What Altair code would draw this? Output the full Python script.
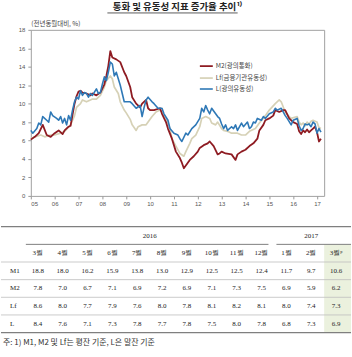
import altair as alt
import pandas as pd

# ---------------- series names / colours ----------------
SER_NAMES = ["M2(광의통화)", "Lf(금융기관유동성)", "L(광의유동성)"]
SER_COLORS = ["#8E1B22", "#D6D1B6", "#2E78B6"]

# ---------------- line data (2005-01 .. 2016-01) ----------------
m2_months = ["2005-01", "2005-03", "2005-05", "2005-07", "2005-09", "2005-11",
             "2006-01", "2006-03", "2006-05", "2006-06", "2006-08", "2006-09", "2006-10", "2006-11", "2006-12",
             "2007-01", "2007-02", "2007-03", "2007-05", "2007-07", "2007-08", "2007-10", "2007-12",
             "2008-02", "2008-03", "2008-04", "2008-05", "2008-06", "2008-08", "2008-10", "2008-12",
             "2009-01", "2009-03", "2009-04", "2009-06", "2009-08", "2009-09", "2009-11", "2009-12",
             "2010-01", "2010-03", "2010-06", "2010-07", "2010-09", "2010-10", "2010-12",
             "2011-02", "2011-04", "2011-05", "2011-06", "2011-08", "2011-09", "2011-11",
             "2012-01", "2012-02", "2012-04", "2012-06", "2012-07", "2012-09", "2012-11", "2012-12",
             "2013-01", "2013-03", "2013-06", "2013-08", "2013-09", "2013-11",
             "2014-01", "2014-03", "2014-05", "2014-07", "2014-08", "2014-10", "2014-11",
             "2015-01", "2015-03", "2015-04", "2015-06", "2015-08", "2015-09", "2015-11",
             "2016-01"]
m2_values = [6.1, 6.4, 6.8, 7.7, 6.6, 6.4,
             6.8, 7.1, 6.7, 7.1, 7.5, 7.6, 8.8, 10.0, 10.8,
             11.3, 11.4, 11.2, 11.1, 10.9, 11.1, 10.9, 11.2,
             12.1, 13.0, 14.1, 15.7, 15.0, 14.8, 14.5, 13.4,
             13.0, 11.8, 10.7, 10.0, 9.6, 10.0, 10.4, 9.5,
             9.3, 9.3, 9.5, 8.9, 8.0, 7.3, 6.2,
             4.8, 4.1, 3.6, 3.0, 3.6, 3.9, 4.3,
             4.8, 5.2, 5.5, 5.7, 5.9, 5.4, 4.5, 4.6,
             4.8, 4.6, 4.5, 3.9, 4.5, 4.8,
             5.0, 5.4, 5.7, 6.2, 7.1, 7.7, 8.2,
             8.4, 8.7, 9.3, 9.1, 9.3, 9.3, 8.4,
             8.0]

lf_months = ["2005-01", "2005-03", "2005-06", "2005-08", "2005-11",
             "2006-01", "2006-04", "2006-06", "2006-09", "2006-11", "2006-12",
             "2007-02", "2007-03", "2007-05", "2007-07", "2007-08", "2007-10", "2007-12",
             "2008-02", "2008-03", "2008-05", "2008-06", "2008-07", "2008-09", "2008-10", "2008-12",
             "2009-01", "2009-03", "2009-04", "2009-06", "2009-07", "2009-09", "2009-11", "2009-12",
             "2010-02", "2010-04", "2010-06", "2010-07", "2010-09", "2010-11", "2010-12",
             "2011-02", "2011-04", "2011-06", "2011-07", "2011-09", "2011-10", "2011-12",
             "2012-02", "2012-03", "2012-05", "2012-07", "2012-08", "2012-10", "2012-11",
             "2013-01", "2013-02", "2013-04", "2013-06", "2013-09", "2013-11",
             "2014-01", "2014-03", "2014-06", "2014-08", "2014-11",
             "2015-01", "2015-04", "2015-06", "2015-07", "2015-09", "2015-11", "2015-12"]
lf_values = [6.2, 6.4, 6.6, 6.4, 6.6,
             6.6, 6.8, 7.0, 7.7, 8.7, 9.6,
             10.0, 10.4, 10.2, 10.4, 10.5, 10.5, 10.9,
             11.8, 12.5, 13.0, 12.7, 11.8, 11.1, 10.2, 9.3,
             9.0, 8.3, 7.7, 7.1, 7.5, 7.7, 7.7, 8.0,
             8.6, 9.1, 9.3, 9.1, 8.4, 7.3, 6.2,
             5.4, 4.6, 4.3, 4.8, 5.7, 6.2, 6.6,
             7.5, 8.4, 8.6, 8.4, 7.9, 7.7, 8.0,
             7.3, 7.1, 7.0, 6.8, 6.8, 6.6,
             6.6, 7.0, 7.3, 7.9, 8.7,
             9.3, 10.0, 10.4, 10.2, 9.1, 8.6, 8.4]

l_months = ["2005-01", "2005-02", "2005-04", "2005-05", "2005-06", "2005-07", "2005-09", "2005-10", "2005-11", "2005-12",
            "2006-02", "2006-03", "2006-04", "2006-05", "2006-06", "2006-07", "2006-08", "2006-09", "2006-10", "2006-11", "2006-12",
            "2007-01", "2007-02", "2007-03", "2007-04", "2007-05", "2007-06", "2007-07", "2007-08", "2007-10", "2007-11", "2007-12",
            "2008-01", "2008-02", "2008-03", "2008-04", "2008-05", "2008-06", "2008-07", "2008-08", "2008-09", "2008-10", "2008-11", "2008-12",
            "2009-01", "2009-03", "2009-04", "2009-06", "2009-08", "2009-09", "2009-10", "2009-11", "2009-12",
            "2010-02", "2010-03", "2010-05", "2010-07", "2010-08", "2010-10", "2010-11",
            "2011-01", "2011-03", "2011-04", "2011-05", "2011-07", "2011-08", "2011-10", "2011-12",
            "2012-02", "2012-03", "2012-04", "2012-05", "2012-06", "2012-07", "2012-08", "2012-10", "2012-11", "2012-12",
            "2013-01", "2013-02", "2013-03", "2013-04", "2013-06", "2013-07", "2013-08", "2013-09", "2013-11", "2013-12",
            "2014-02", "2014-03", "2014-04", "2014-05", "2014-06", "2014-07", "2014-09", "2014-10", "2014-11",
            "2015-01", "2015-03", "2015-04", "2015-05", "2015-07", "2015-08", "2015-09", "2015-10", "2015-12",
            "2016-01"]
l_values = [7.1, 6.8, 7.3, 7.9, 7.7, 8.6, 8.2, 8.0, 9.1, 8.7,
            8.4, 8.2, 8.6, 7.9, 8.4, 7.7, 8.7, 8.2, 9.3, 10.2, 10.7,
            10.5, 11.4, 10.9, 11.2, 11.1, 10.7, 11.1, 10.9, 11.6, 11.1, 11.2,
            12.1, 12.9, 12.5, 13.4, 14.5, 14.3, 13.0, 13.4, 12.7, 12.0, 11.1, 10.2,
            10.2, 10.2, 10.0, 9.5, 9.8, 8.6, 9.6, 10.4, 10.7,
            10.2, 10.0, 9.5, 9.5, 8.9, 8.2, 7.3,
            6.8, 6.6, 6.2, 5.9, 6.8, 6.6, 7.3, 7.7,
            8.4, 9.5, 9.1, 9.8, 9.3, 8.9, 9.5, 8.9, 8.6, 8.4,
            7.8, 7.3, 7.7, 7.1, 7.5, 7.3, 7.7, 7.1, 7.9, 7.5,
            8.0, 7.3, 7.5, 8.0, 7.9, 8.4, 8.2, 8.6, 8.4,
            8.9, 9.1, 9.5, 9.3, 9.5, 9.1, 8.7, 8.4, 7.7,
            8.2]

# ---------------- table (2016-03 .. 2017-03) ----------------
tab_dates = ["2016-03", "2016-04", "2016-05", "2016-06", "2016-07", "2016-08", "2016-09",
             "2016-10", "2016-11", "2016-12", "2017-01", "2017-02", "2017-03"]
tab_months = ["3월", "4월", "5월", "6월", "7월", "8월", "9월", "10월", "11월", "12월", "1월", "2월", "3월ᵖ"]
tab_years = ["2016", "2017"]
tab_year_counts = [10, 3]
tab_rows = ["M1", "M2", "Lf", "L"]
tab_M1 = [18.8, 18.0, 16.2, 15.9, 13.8, 13.0, 12.9, 12.5, 12.5, 12.4, 11.7, 9.7, 10.6]
tab_M2 = [7.8, 7.0, 6.7, 7.1, 6.9, 7.2, 6.9, 7.1, 7.3, 7.5, 6.9, 5.9, 6.2]
tab_Lf = [8.6, 8.0, 7.7, 7.9, 7.6, 8.0, 7.8, 8.1, 8.2, 8.1, 8.0, 7.4, 7.3]
tab_L = [8.4, 7.6, 7.1, 7.3, 7.8, 7.7, 7.8, 7.5, 8.0, 7.8, 6.8, 7.3, 6.9]
footnote = "주: 1) M1, M2 및 Lf는 평잔 기준, L은 말잔 기준"
title_text = "통화 및 유동성 지표 증가율 추이¹⁾"
y_unit = "(전년동월대비, %)"
year_ticks = list(range(2005, 2018))
value_ticks = list(range(0, 19, 2))

KFONT = "Noto Sans CJK KR"
SERIF = "Liberation Serif"


def to_year(s):
    y, m = s.split("-")
    return int(y) + (int(m) - 1) / 12.0


recs = []
for name, months, vals, tail in [
    (SER_NAMES[1], lf_months, lf_values, tab_Lf),
    (SER_NAMES[0], m2_months, m2_values, tab_M2),
    (SER_NAMES[2], l_months, l_values, tab_L),
]:
    assert len(months) == len(vals), name
    for mo, v in zip(months + tab_dates, vals + tail):
        recs.append({"series": name, "t": to_year(mo), "v": v})
df = pd.DataFrame(recs)

# ---------------- top: line chart ----------------
lines = alt.Chart(df).mark_line(strokeJoin="round").encode(
    x=alt.X("t:Q",
            scale=alt.Scale(domain=[2005, 2017.3], nice=False, zero=False),
            axis=alt.Axis(values=year_ticks, labelExpr="substring(toString(datum.value), 2)",
                          title=None, grid=False, domain=False, tickSize=3, tickColor="#999",
                          labelFontSize=6, labelColor="#555", labelPadding=2,
                          labelFont="Liberation Sans")),
    y=alt.Y("v:Q",
            scale=alt.Scale(domain=[0, 18], nice=False),
            axis=alt.Axis(values=value_ticks, title=y_unit, titleAngle=0, titleAlign="left",
                          titleBaseline="bottom", titleX=0, titleY=-3, titleFontSize=6.5,
                          titleFontWeight="normal", titleColor="#444", titleFont=KFONT,
                          grid=False, domain=False, tickSize=3, tickColor="#999",
                          labelFontSize=6, labelColor="#555", labelPadding=3,
                          labelFont="Liberation Sans")),
    color=alt.Color("series:N",
                    scale=alt.Scale(domain=SER_NAMES, range=SER_COLORS),
                    legend=alt.Legend(title=None, orient="none", legendX=169, legendY=29,
                                      symbolType="stroke", symbolSize=169, symbolStrokeWidth=2,
                                      labelFontSize=6.5, labelFont=KFONT, labelColor="#444",
                                      rowPadding=0, labelOffset=2, padding=0)),
    strokeWidth=alt.StrokeWidth("series:N",
                                scale=alt.Scale(domain=SER_NAMES, range=[1.8, 1.6, 1.8]),
                                legend=None),
)

underline = alt.Chart(pd.DataFrame({"a": [0]})).mark_rule(color="#333", strokeWidth=0.8).encode(
    x=alt.value(77), x2=alt.value(208), y=alt.value(-17)
)

top = alt.layer(lines, underline).properties(
    width=295, height=167,
    title=alt.TitleParams(title_text, fontSize=9.5, fontWeight="bold", font=KFONT,
                          anchor="middle", offset=1, color="#222"),
)

# ---------------- bottom: table ----------------
ncol = len(tab_months)
xs = alt.Scale(domain=[0, ncol - 1], range=[7, 307])
ys = alt.Scale(domain=[-0.5, 6.77], range=[0, 129])
x_left, x_right = -1.48, ncol - 1 + 0.6

# highlight of the preliminary column
hl = pd.DataFrame({"x1": [ncol - 1 - 0.48], "x2": [x_right], "y1": [0.5], "y2": [5.5]})
hl_layer = alt.Chart(hl).mark_rect(color="#EBF1DE").encode(
    x=alt.X("x1:Q", scale=xs, axis=None), x2="x2:Q",
    y=alt.Y("y1:Q", scale=ys, axis=None), y2="y2:Q")

# horizontal rules
rule_recs = [{"x1": x_left, "x2": x_right, "y": -0.5, "c": "#7F7F7F", "w": 1.3}]
start = 0
for cnt in tab_year_counts:
    a = start - 0.48 if start == 0 else start - 0.4
    b = start + cnt - 1 + (0.28 if start == 0 else 0.6)
    rule_recs.append({"x1": a, "x2": b, "y": 0.5, "c": "#7F7F7F", "w": 1.0})
    start += cnt
for r in [1.5, 2.5, 3.5, 4.5]:
    rule_recs.append({"x1": x_left, "x2": x_right, "y": r, "c": "#BDBDBD", "w": 0.8})
rule_recs.append({"x1": x_left, "x2": x_right, "y": 5.5, "c": "#7F7F7F", "w": 1.3})
rules = alt.Chart(pd.DataFrame(rule_recs)).mark_rule().encode(
    x=alt.X("x1:Q", scale=xs, axis=None), x2="x2:Q",
    y=alt.Y("y:Q", scale=ys, axis=None),
    color=alt.Color("c:N", scale=None),
    strokeWidth=alt.StrokeWidth("w:Q", scale=None))

# year headers
yr = []
start = 0
for ylab, cnt in zip(tab_years, tab_year_counts):
    yr.append({"c": start + (cnt - 1) / 2, "r": 0, "t": ylab})
    start += cnt
# month headers + values
cells = []
for i, m in enumerate(tab_months):
    cells.append({"c": i, "r": 1, "t": m})
for ri, vals in enumerate([tab_M1, tab_M2, tab_Lf, tab_L]):
    for i, v in enumerate(vals):
        cells.append({"c": i, "r": 2 + ri, "t": f"{v:.1f}"})
txt_df = pd.DataFrame(yr + cells)
txt = alt.Chart(txt_df).mark_text(font=SERIF, fontSize=7, color="#222", baseline="middle").encode(
    x=alt.X("c:Q", scale=xs, axis=None),
    y=alt.Y("r:Q", scale=ys, axis=None),
    text="t:N")

rowlab = alt.Chart(pd.DataFrame({"r": [2, 3, 4, 5], "t": tab_rows})).mark_text(
    font=SERIF, fontSize=7, color="#222", align="left", baseline="middle").encode(
    x=alt.value(-21), y=alt.Y("r:Q", scale=ys, axis=None), text="t:N")

foot = alt.Chart(pd.DataFrame({"r": [6.1], "t": [footnote]})).mark_text(
    font=KFONT, fontSize=8, color="#333", align="left", baseline="middle").encode(
    x=alt.value(-28), y=alt.Y("r:Q", scale=ys, axis=None), text="t:N")

table = alt.layer(hl_layer, rules, txt, rowlab, foot).properties(
    width=322, height=129, view=alt.ViewBackground(strokeOpacity=0))

chart = alt.vconcat(top, table, spacing=18).properties(
    padding={"left": 0, "top": 0, "right": 0, "bottom": 0}
).configure_view(stroke="#A0A0A0", strokeWidth=1)

chart.save("out.html", embed_options={"renderer": "svg", "actions": False})
